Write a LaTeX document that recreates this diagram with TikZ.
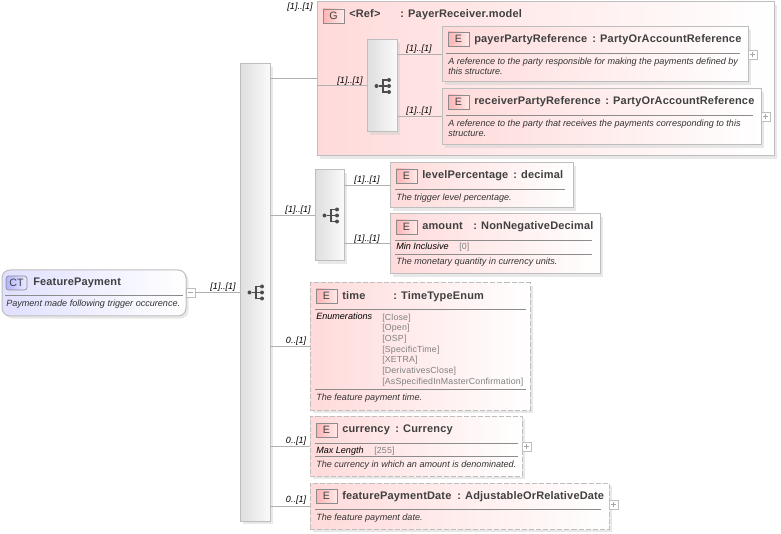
\documentclass[tikz,border=0pt]{standalone}
\usepackage{fontspec}
\setmainfont{Liberation Sans}
\usetikzlibrary{shadows,calc}
\definecolor{myline}{HTML}{B0B0B0}
\definecolor{myborder}{HTML}{BEBEBE}
\definecolor{mytext}{HTML}{404040}
\definecolor{mypink}{HTML}{FFDADA}
\definecolor{myblue}{HTML}{E0E0FF}
\tikzset{
  boxSize/.style 2 args={minimum width=#1*0.75pt,minimum height=#2*0.75pt},
  softShadow/.style={drop shadow={shadow xshift=1.9pt,shadow yshift=-1.9pt,fill=black!18}},
  elemBox/.style={rectangle,anchor=north west,outer sep=0pt,inner sep=0pt,draw=myborder,line width=0.75pt,left color=mypink,right color=white,softShadow},
  optBox/.style={elemBox,dash pattern=on 3.8pt off 1.5pt},
  typeBox/.style={elemBox,rounded corners=6pt,left color=myblue,right color=white},
  seqBox/.style={elemBox,left color=black!13,right color=black!2},
  badge/.style={rectangle,anchor=north west,outer sep=0pt,inner sep=0pt,draw=black!45,line width=0.5pt,left color=#1!30,right color=#1!8,text=mytext,font=\fontsize{8}{9}\selectfont,boxSize={21}{14}},
  badge/.default=red,
  titleText/.style={anchor=base west,inner sep=0pt,yshift=-0.75pt,text=mytext,font=\fontsize{8.25}{10}\selectfont\bfseries\addfontfeatures{LetterSpace=1.5}},
  noteText/.style={anchor=base west,inner sep=0pt,yshift=-0.5pt,text=black!80,align=left,font=\fontsize{6.8}{7.6}\selectfont\itshape},
  factText/.style={anchor=base west,inner sep=0pt,text=black,font=\fontsize{6.8}{8}\selectfont\itshape},
  valueText/.style={anchor=base west,inner sep=0pt,text=black!50,align=left,font=\fontsize{6.6}{8}\selectfont\addfontfeatures{LetterSpace=2}},
  countText/.style={inner sep=0pt,yshift=-0.75pt,text=black,font=\fontsize{6.75}{8}\selectfont\itshape},
  expandBox/.style={rectangle,anchor=north west,outer sep=0pt,inner sep=0pt,draw=myborder,line width=0.5pt,fill=white,boxSize={9}{9}},
  connector/.style={draw=myline,line width=0.75pt},
  divider/.style={draw=black!45,line width=0.5pt},
  seqDot/.style={circle,fill=black!70,inner sep=0pt,minimum size=3pt},
  pics/seqIcon/.style={code={
    \node[seqDot] (-in) at (-6.5,0) {};
    \node[seqDot] (-a) at (6,-6) {};
    \node[seqDot] (-b) at (6,0) {};
    \node[seqDot] (-c) at (6,6) {};
    \draw[black!70,line width=0.8pt] (-in) -- (0,0) (-a) -- (0,-6) -- (0,6) -- (-c) (0,0) -- (-b);}},
}
\newcommand{\plusSign}[1]{\draw[black!35,line width=0.4pt] ($(#1.west)+(1.5pt,0)$) -- ($(#1.east)+(-1.5pt,0)$) ($(#1.north)+(0,-1.5pt)$) -- ($(#1.south)+(0,1.5pt)$);}
\begin{document}
\begin{tikzpicture}[x=0.75pt,y=-0.75pt]
  \useasboundingbox (0,0) rectangle (781,534);

  % complex type
  \node[typeBox,boxSize={184}{46}] at (2,270) (featurePayment) {};
  \node[badge=blue,rounded corners=2pt] at (6,276) (ctBadge) {CT};
  \node[titleText] at (33,285) (ctTitle) {FeaturePayment};
  \draw[divider] (5,295) -- (183,295);
  \node[noteText] at (6,306) (ctNote) {Payment made following trigger occurence.};
  \node[expandBox] at (186,288) (ctExpand) {};
  \draw[black!35,line width=0.4pt] ($(ctExpand.west)+(1.5pt,0)$) -- ($(ctExpand.east)+(-1.5pt,0)$);

  % sequences
  \node[seqBox,boxSize={30}{457}] at (240,64) (seqMain) {};
  \pic at (256,292.5) {seqIcon};
  \node[seqBox,boxSize={29}{91}] at (315,170) (seqAmount) {};
  \pic at (331,215.5) {seqIcon};

  % group
  \node[elemBox,boxSize={457}{154}] at (317,2) (payerGroup) {};
  \node[badge] at (323,9) (gBadge) {G};
  \node[titleText] at (349,17) (gRef) {<Ref>};
  \node[titleText] at (400,17) (gType) {: PayerReceiver.model};
  \node[seqBox,boxSize={30}{92}] at (367,40) (seqGroup) {};
  \pic at (383,86) {seqIcon};

  \node[elemBox,boxSize={306}{55}] at (442,27) (payerRef) {};
  \node[badge] at (448,32) (payerBadge) {E};
  \node[titleText] at (474,42) (payerTitle) {payerPartyReference};
  \node[titleText] at (592,42) (payerType) {: PartyOrAccountReference};
  \draw[divider] (446,53) -- (740,53);
  \node[noteText] at (448,74.2) (payerNote) {A reference to the party responsible for making the payments defined by\\this structure.};
  \node[expandBox] at (748,50) (payerExpand) {};
  \plusSign{payerExpand}

  \node[elemBox,boxSize={319}{56}] at (442,89) (receiverRef) {};
  \node[badge] at (448,95) (receiverBadge) {E};
  \node[titleText] at (474,104) (receiverTitle) {receiverPartyReference};
  \node[titleText] at (605,104) (receiverType) {: PartyOrAccountReference};
  \draw[divider] (446,115) -- (753,115);
  \node[noteText] at (448,136.2) (receiverNote) {A reference to the party that receives the payments corresponding to this\\structure.};
  \node[expandBox] at (761,112) (receiverExpand) {};
  \plusSign{receiverExpand}

  % elements
  \node[elemBox,boxSize={183}{45}] at (390,163) (levelPercentage) {};
  \node[badge] at (396,169) (levelBadge) {E};
  \node[titleText] at (422,178) (levelTitle) {levelPercentage};
  \node[titleText] at (513,178) (levelType) {: decimal};
  \draw[divider] (395,189) -- (565,189);
  \node[noteText] at (396,200) (levelNote) {The trigger level percentage.};

  \node[elemBox,boxSize={210}{60}] at (390,214) (amount) {};
  \node[badge] at (396,220) (amountBadge) {E};
  \node[titleText] at (422,229) (amountTitle) {amount};
  \node[titleText] at (473,229) (amountType) {: NonNegativeDecimal};
  \draw[divider] (395,240) -- (592,240);
  \node[factText] at (396,250) (amountFact) {Min Inclusive};
  \node[valueText] at (459,250) (amountValue) {{[0]}};
  \draw[divider] (395,254) -- (592,254);
  \node[noteText] at (396,264) (amountNote) {The monetary quantity in currency units.};

  \node[optBox,boxSize={220}{127}] at (310,283) (time) {};
  \node[badge] at (316,289) (timeBadge) {E};
  \node[titleText] at (342,299) (timeTitle) {time};
  \node[titleText] at (393,299) (timeType) {: TimeTypeEnum};
  \draw[divider] (315,309) -- (526,309);
  \node[factText] at (316,320) (timeFact) {Enumerations};
  \node[valueText] at (382,384) (timeValues) {{[Close]}\\{[Open]}\\{[OSP]}\\{[SpecificTime]}\\{[XETRA]}\\{[DerivativesClose]}\\{[AsSpecifiedInMasterConfirmation]}};
  \draw[divider] (315,389) -- (526,389);
  \node[noteText] at (316,400) (timeNote) {The feature payment time.};

  \node[optBox,boxSize={212}{60}] at (310,416) (currency) {};
  \node[badge] at (316,423) (currencyBadge) {E};
  \node[titleText] at (342,431) (currencyTitle) {currency};
  \node[titleText] at (395,431) (currencyType) {: Currency};
  \draw[divider] (315,443) -- (518,443);
  \node[factText] at (316,453) (currencyFact) {Max Length};
  \node[valueText] at (374,453) (currencyValue) {{[255]}};
  \draw[divider] (315,456) -- (518,456);
  \node[noteText] at (316,467) (currencyNote) {The currency in which an amount is denominated.};
  \node[expandBox] at (522,442) (currencyExpand) {};
  \plusSign{currencyExpand}

  \node[optBox,boxSize={299}{46}] at (310,483) (paymentDate) {};
  \node[badge] at (316,489) (dateBadge) {E};
  \node[titleText] at (342,498) (dateTitle) {featurePaymentDate};
  \node[titleText] at (457,498) (dateType) {: AdjustableOrRelativeDate};
  \draw[divider] (315,509) -- (601,509);
  \node[noteText] at (316,520) (dateNote) {The feature payment date.};
  \node[expandBox] at (609,500) (dateExpand) {};
  \plusSign{dateExpand}

  % connectors
  \path[connector] (ctExpand.east) -- (seqMain.west);
  \path[connector] (payerGroup.west) -- (payerGroup.west -| seqMain.east);
  \path[connector] (seqAmount.west) -- (seqAmount.west -| seqMain.east);
  \path[connector] (time.west) -- (time.west -| seqMain.east);
  \path[connector] (currency.west) -- (currency.west -| seqMain.east);
  \path[connector] (paymentDate.west) -- (paymentDate.west -| seqMain.east);
  \path[connector] (seqGroup.west) -- (seqGroup.west -| payerGroup.west);
  \path[connector] (payerRef.west) -- (payerRef.west -| seqGroup.east);
  \path[connector] (receiverRef.west) -- (receiverRef.west -| seqGroup.east);
  \path[connector] (levelPercentage.west) -- (levelPercentage.west -| seqAmount.east);
  \path[connector] (amount.west) -- (amount.west -| seqAmount.east);

  % occurrence labels
  \node[countText] at (223,286) (countMain) {[1]..[1]};
  \node[countText] at (300,6) (countGroup) {[1]..[1]};
  \node[countText] at (350,80) (countSeqGroup) {[1]..[1]};
  \node[countText] at (419,48) (countPayer) {[1]..[1]};
  \node[countText] at (419,110) (countReceiver) {[1]..[1]};
  \node[countText] at (298,209) (countSeqAmount) {[1]..[1]};
  \node[countText] at (367,179) (countLevel) {[1]..[1]};
  \node[countText] at (367,238) (countAmount) {[1]..[1]};
  \node[countText] at (296,340) (countTime) {0..[1]};
  \node[countText] at (296,440) (countCurrency) {0..[1]};
  \node[countText] at (296,499) (countDate) {0..[1]};
\end{tikzpicture}
\end{document}
